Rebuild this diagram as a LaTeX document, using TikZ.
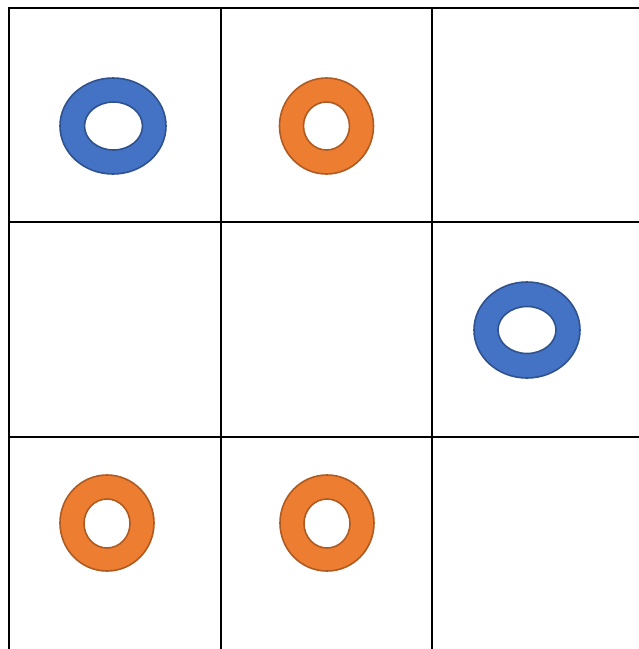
\documentclass[tikz,border=0pt]{standalone}
\definecolor{ringblue}{HTML}{4472C4}
\definecolor{ringbluedark}{HTML}{2F528F}
\definecolor{ringorange}{HTML}{ED7D31}
\definecolor{ringorangedark}{HTML}{AE5A21}
\tikzset{
  gridline/.style={line width=2.3pt, black},
  bluering/.style={fill=ringblue, draw=ringbluedark, line width=1.6pt, even odd rule},
  orangering/.style={fill=ringorange, draw=ringorangedark, line width=1.6pt, even odd rule}
}
\begin{document}
\begin{tikzpicture}[x=1pt,y=-1pt]
\useasboundingbox (0,0) rectangle (639,649);
\fill[white] (0,0) rectangle (639,649);
% grid
\draw[gridline] (9,649) -- (9,8) -- (639,8);
\draw[gridline] (221,8) -- (221,649);
\draw[gridline] (432,8) -- (432,649);
\draw[gridline] (9,222) -- (639,222);
\draw[gridline] (9,437) -- (639,437);
% blue rings
\path[bluering] (113,126) ellipse [x radius=53, y radius=48] (113.5,126) ellipse [x radius=29, y radius=24];
\path[bluering] (527,330) ellipse [x radius=53, y radius=48] (527,330) ellipse [x radius=29, y radius=23.5];
% orange rings
\path[orangering] (326.5,126) ellipse [x radius=47, y radius=48] (326.5,126) ellipse [x radius=23, y radius=24];
\path[orangering] (107,523) ellipse [x radius=47, y radius=48] (107,523.5) ellipse [x radius=23, y radius=24.5];
\path[orangering] (327,523) ellipse [x radius=47, y radius=48] (327,523.5) ellipse [x radius=23, y radius=24.5];
\end{tikzpicture}
\end{document}
